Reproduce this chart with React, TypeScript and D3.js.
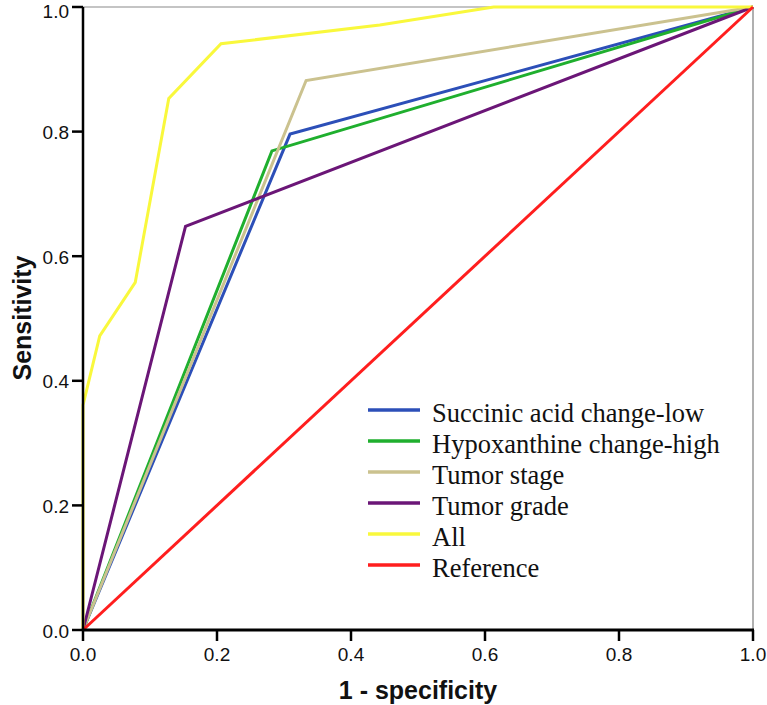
import React from "react";
import * as d3 from "d3";

const seriesNames = [
  "Succinic acid change-low",
  "Hypoxanthine change-high",
  "Tumor stage",
  "Tumor grade",
  "All",
  "Reference",
];
const seriesColors = ["#2c4fb8", "#1faf2e", "#cbc28f", "#6b1677", "#f9f83c", "#ff1e1e"];

const succinicFpr = [0, 0.309, 1];
const succinicTpr = [0, 0.796, 1];
const hypoxFpr = [0, 0.282, 1];
const hypoxTpr = [0, 0.769, 1];
const stageFpr = [0, 0.333, 1];
const stageTpr = [0, 0.882, 1];
const gradeFpr = [0, 0.153, 1];
const gradeTpr = [0, 0.648, 1];
const allFpr = [0, 0, 0.025, 0.078, 0.128, 0.206, 0.443, 0.613, 1];
const allTpr = [0, 0.361, 0.472, 0.558, 0.853, 0.941, 0.971, 1, 1];
const refFpr = [0, 1];
const refTpr = [0, 1];

const xTicks = [0, 0.2, 0.4, 0.6, 0.8, 1.0];
const yTicks = [0, 0.2, 0.4, 0.6, 0.8, 1.0];

const W = 767;
const H = 705;
const left = 83;
const right = 753;
const top = 7;
const bottom = 630;

export default function App() {
  const x = d3.scaleLinear().domain([0, 1]).range([left, right]);
  const y = d3.scaleLinear().domain([0, 1]).range([bottom, top]);
  const line = d3
    .line<[number, number]>()
    .x((d) => x(d[0]))
    .y((d) => y(d[1]));

  const series: [number[], number[]][] = [
    [succinicFpr, succinicTpr],
    [hypoxFpr, hypoxTpr],
    [stageFpr, stageTpr],
    [gradeFpr, gradeTpr],
    [allFpr, allTpr],
    [refFpr, refTpr],
  ];

  const sans = "'Liberation Sans', Arial, sans-serif";
  const serif = "'Liberation Serif', 'Times New Roman', serif";

  const legendX1 = 368;
  const legendX2 = 420;
  const legendTextX = 432;
  const legendY0 = 410;
  const legendStep = 31;

  return (
    <div style={{ position: "absolute", left: 0, top: 0 }}>
      <svg width={W} height={H} style={{ display: "block", background: "#fff" }}>
        {/* frame top/right */}
        <line x1={left} x2={right} y1={top} y2={top} stroke="#c4c4c4" strokeWidth={2} />
        <line x1={right} x2={right} y1={top} y2={bottom} stroke="#b0b0b0" strokeWidth={2} />

        {/* curves */}
        {series.map(([fx, ty], i) => (
          <path
            key={i}
            d={line(fx.map((v, j) => [v, ty[j]] as [number, number])) || ""}
            fill="none"
            stroke={seriesColors[i]}
            strokeWidth={3}
            strokeLinejoin="miter"
          />
        ))}

        {/* axes */}
        <line x1={left} x2={left} y1={top} y2={bottom + 1} stroke="#000" strokeWidth={2.5} />
        <line x1={left - 1} x2={right + 1} y1={bottom} y2={bottom} stroke="#000" strokeWidth={3} />
        {yTicks.map((t) => (
          <g key={"y" + t}>
            <line x1={left - 11} x2={left} y1={y(t)} y2={y(t)} stroke="#000" strokeWidth={2.5} />
            <text
              x={left - 14}
              y={Math.max(y(t) + 1, 11)}
              textAnchor="end"
              dominantBaseline="central"
              fontFamily={sans}
              fontSize={19}
              fill="#111"
            >
              {t.toFixed(1)}
            </text>
          </g>
        ))}
        {xTicks.map((t) => (
          <g key={"x" + t}>
            <line x1={x(t)} x2={x(t)} y1={bottom} y2={bottom + 11} stroke="#000" strokeWidth={2.5} />
            <text
              x={x(t)}
              y={bottom + 24}
              textAnchor="middle"
              dominantBaseline="central"
              fontFamily={sans}
              fontSize={19}
              fill="#111"
            >
              {t.toFixed(1)}
            </text>
          </g>
        ))}

        {/* axis titles */}
        <text
          x={418}
          y={690}
          textAnchor="middle"
          dominantBaseline="central"
          fontFamily={sans}
          fontWeight="bold"
          fontSize={25}
          fill="#111"
        >
          1 - specificity
        </text>
        <text
          transform={`translate(22,318) rotate(-90)`}
          textAnchor="middle"
          dominantBaseline="central"
          fontFamily={sans}
          fontWeight="bold"
          fontSize={25}
          fill="#111"
        >
          Sensitivity
        </text>

        {/* legend */}
        {seriesNames.map((name, i) => {
          const ly = legendY0 + i * legendStep;
          return (
            <g key={name}>
              <line x1={legendX1} x2={legendX2} y1={ly} y2={ly} stroke={seriesColors[i]} strokeWidth={3.5} />
              <text x={legendTextX} y={ly + 12} fontFamily={serif} fontSize={26.5} fill="#111">
                {name}
              </text>
            </g>
          );
        })}
      </svg>
    </div>
  );
}
